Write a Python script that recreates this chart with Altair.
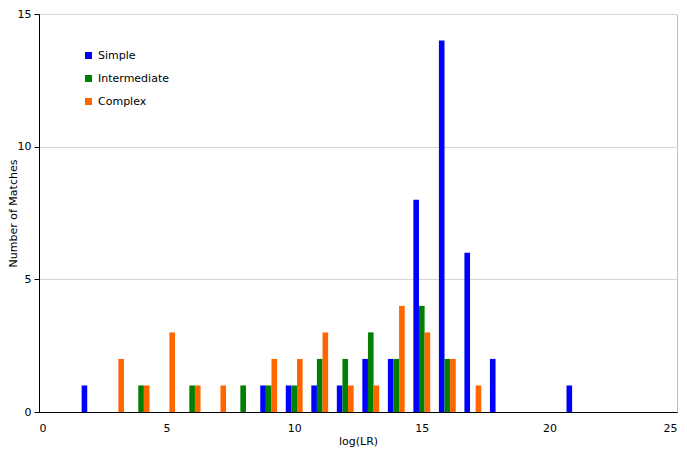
import altair as alt
import pandas as pd

bins = list(range(2, 22))
series_names = ["Simple", "Intermediate", "Complex"]
simple = [1, 0, 0, 0, 0, 0, 0, 1, 1, 1, 1, 2, 2, 8, 14, 6, 2, 0, 0, 1]
intermediate = [0, 0, 1, 0, 1, 0, 1, 1, 1, 2, 2, 3, 2, 4, 2, 0, 0, 0, 0, 0]
complex_ = [0, 2, 1, 3, 1, 1, 0, 2, 2, 3, 1, 1, 4, 3, 2, 1, 0, 0, 0, 0]
colors = ["#0000ff", "#007f00", "#ff6600"]

rows = []
for name, vals in zip(series_names, [simple, intermediate, complex_]):
    for b, v in zip(bins, vals):
        rows.append({"bin": b, "series": name, "count": v})
df = pd.DataFrame(rows)

font = "DejaVu Sans"

chart = (
    alt.Chart(df)
    .transform_filter("datum.count > 0")
    .transform_calculate(
        off="datum.series === 'Simple' ? -0.22 : (datum.series === 'Intermediate' ? 0 : 0.22)"
    )
    .transform_calculate(lo="datum.bin + datum.off - 0.11", hi="datum.bin + datum.off + 0.11")
    .mark_bar()
    .encode(
        x=alt.X(
            "lo:Q",
            scale=alt.Scale(domain=[0, 25], nice=False, zero=False),
            axis=alt.Axis(
                title="log(LR)",
                values=[0, 5, 10, 15, 20, 25],
                grid=False,
                ticks=False,
                domainColor="#000000",
                labelPadding=10,
                titlePadding=2,
            ),
        ),
        x2="hi:Q",
        y=alt.Y(
            "count:Q",
            scale=alt.Scale(domain=[0, 15], nice=False),
            axis=alt.Axis(
                title="Number of Matches",
                values=[0, 5, 10, 15],
                tickSize=5,
                tickColor="#000000",
                domainColor="#000000",
                gridColor="#d6d6d6",
                labelPadding=3,
                titleX=-21,
            ),
        ),
        y2=alt.datum(0),
        color=alt.Color(
            "series:N",
            scale=alt.Scale(domain=series_names, range=colors),
            legend=alt.Legend(
                title=None,
                orient="none",
                legendX=44,
                legendY=36,
                symbolType="square",
                symbolSize=49,
                symbolStrokeWidth=0,
                labelFontSize=11,
                labelOffset=4,
                rowPadding=11,
            ),
        ),
    )
    .properties(
        width=638,
        height=398,
        autosize=alt.AutoSizeParams(type="none"),
        padding={"left": 31, "top": 6, "right": 1, "bottom": 35},
    )
    .configure(font=font)
    .configure_view(stroke="#c0c0c0", strokeWidth=1)
    .configure_axis(
        labelFont=font,
        titleFont=font,
        labelFontSize=11,
        titleFontSize=11,
        titleFontWeight="normal",
        labelColor="#000000",
        titleColor="#000000",
    )
    .configure_legend(labelFont=font, labelColor="#000000")
)

chart.save("out.html", embed_options={"renderer": "svg", "actions": False})
